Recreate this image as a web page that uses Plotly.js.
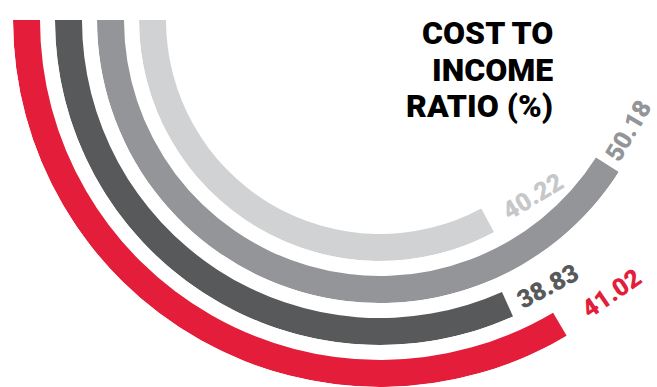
<!DOCTYPE html>
<html><head><meta charset="utf-8">
<script src="https://cdn.plot.ly/plotly-3.0.1.min.js"></script>
<style>html,body{margin:0;padding:0;background:#fff;overflow:hidden}</style>
</head><body><div id="chart" style="width:657px;height:387px"></div>
<script>
// ---- data ----
const seriesKeys = ['s1', 's2', 's3', 's4'];
const values = [41.02, 38.83, 50.18, 40.22];
const valueLabels = ['41.02', '38.83', '50.18', '40.22'];
const titleLines = ['COST TO', 'INCOME', 'RATIO (%)'];

// ---- style / geometry ----
const W = 657, H = 387;
const CX = 380, CY = 20;            // common centre of the rings (px)
const START = 180;                  // start angle (deg, counterclockwise from east)
const DEG_PER_UNIT = 2.94;          // sweep per unit of value
const outerR = [367, 325, 283, 241];
const THICK = 27;
const colors = ['#e31d3a', '#58595b', '#939598', '#d1d2d4'];
const labelColors = ['#e31d3a', '#58595b', '#939598', '#c6c7c9'];
const labelShift = [60, 44, 40, 51];
const labelTilt = [-4, -4, -2, -3];
const FONT = 'Roboto, "Open Sans", sans-serif';

const rad = d => d * Math.PI / 180;
const traces = [], layout = {
  width: W, height: H, margin: {l: 0, r: 0, t: 0, b: 0},
  paper_bgcolor: '#fff', plot_bgcolor: '#fff', showlegend: false,
  annotations: []
};

values.forEach((v, i) => {
  const span = v * DEG_PER_UNIT;
  const R = outerR[i];
  const end = START + span;
  const sectorEnd = end + 1;
  const key = i === 0 ? 'polar' : 'polar' + (i + 1);
  // domain so that centre lands on (CX, CY) and radius = R px
  const bbRight = Math.max(0, Math.cos(rad(sectorEnd)));
  const x0 = (CX - R) / W, x1 = (CX + R * bbRight) / W;
  const y1 = 1 - CY / H, y0 = Math.max(0, 1 - (CY + R) / H);
  layout[key] = {
    domain: {x: [x0, x1], y: [y0, y1]},
    sector: [START, sectorEnd],
    hole: 0,
    bgcolor: 'rgba(0,0,0,0)',
    barmode: 'overlay',
    radialaxis: {visible: false, range: [0, R], showgrid: false, showline: false, ticks: ''},
    angularaxis: {visible: false, rotation: 0, direction: 'counterclockwise', showgrid: false, showline: false, ticks: ''}
  };
  traces.push({
    type: 'barpolar', subplot: key, name: seriesKeys[i],
    r: [THICK], base: [R - THICK], theta: [START + span / 2], width: [span],
    marker: {color: colors[i], line: {width: 0}},
    hoverinfo: 'skip'
  });
  // value label just past the end of the arc, along its tangent
  const rm = R - THICK / 2;
  const ex = CX + rm * Math.cos(rad(end)), ey = CY - rm * Math.sin(rad(end));
  const tx = -Math.sin(rad(end)), ty = -Math.cos(rad(end));
  const lx = ex + labelShift[i] * tx, ly = ey + labelShift[i] * ty;
  const ang = Math.atan2(ty, tx) * 180 / Math.PI + labelTilt[i];
  layout.annotations.push({
    xref: 'paper', yref: 'paper', x: lx / W, y: 1 - ly / H,
    xanchor: 'center', yanchor: 'middle', showarrow: false,
    text: valueLabels[i], textangle: ang, borderpad: 0,
    font: {family: FONT, size: 25, weight: 900, color: labelColors[i]}
  });
});

const titleY = [33, 70, 106];
titleLines.forEach((t, k) => {
  layout.annotations.push({
    xref: 'paper', yref: 'paper', x: 555 / W, y: 1 - titleY[k] / H,
    xanchor: 'right', yanchor: 'middle', showarrow: false, text: t,
    font: {family: FONT, size: 32, weight: 900, color: '#000'}
  });
});

Plotly.newPlot('chart', traces, layout, {displayModeBar: false, staticPlot: true});
</script></body></html>
